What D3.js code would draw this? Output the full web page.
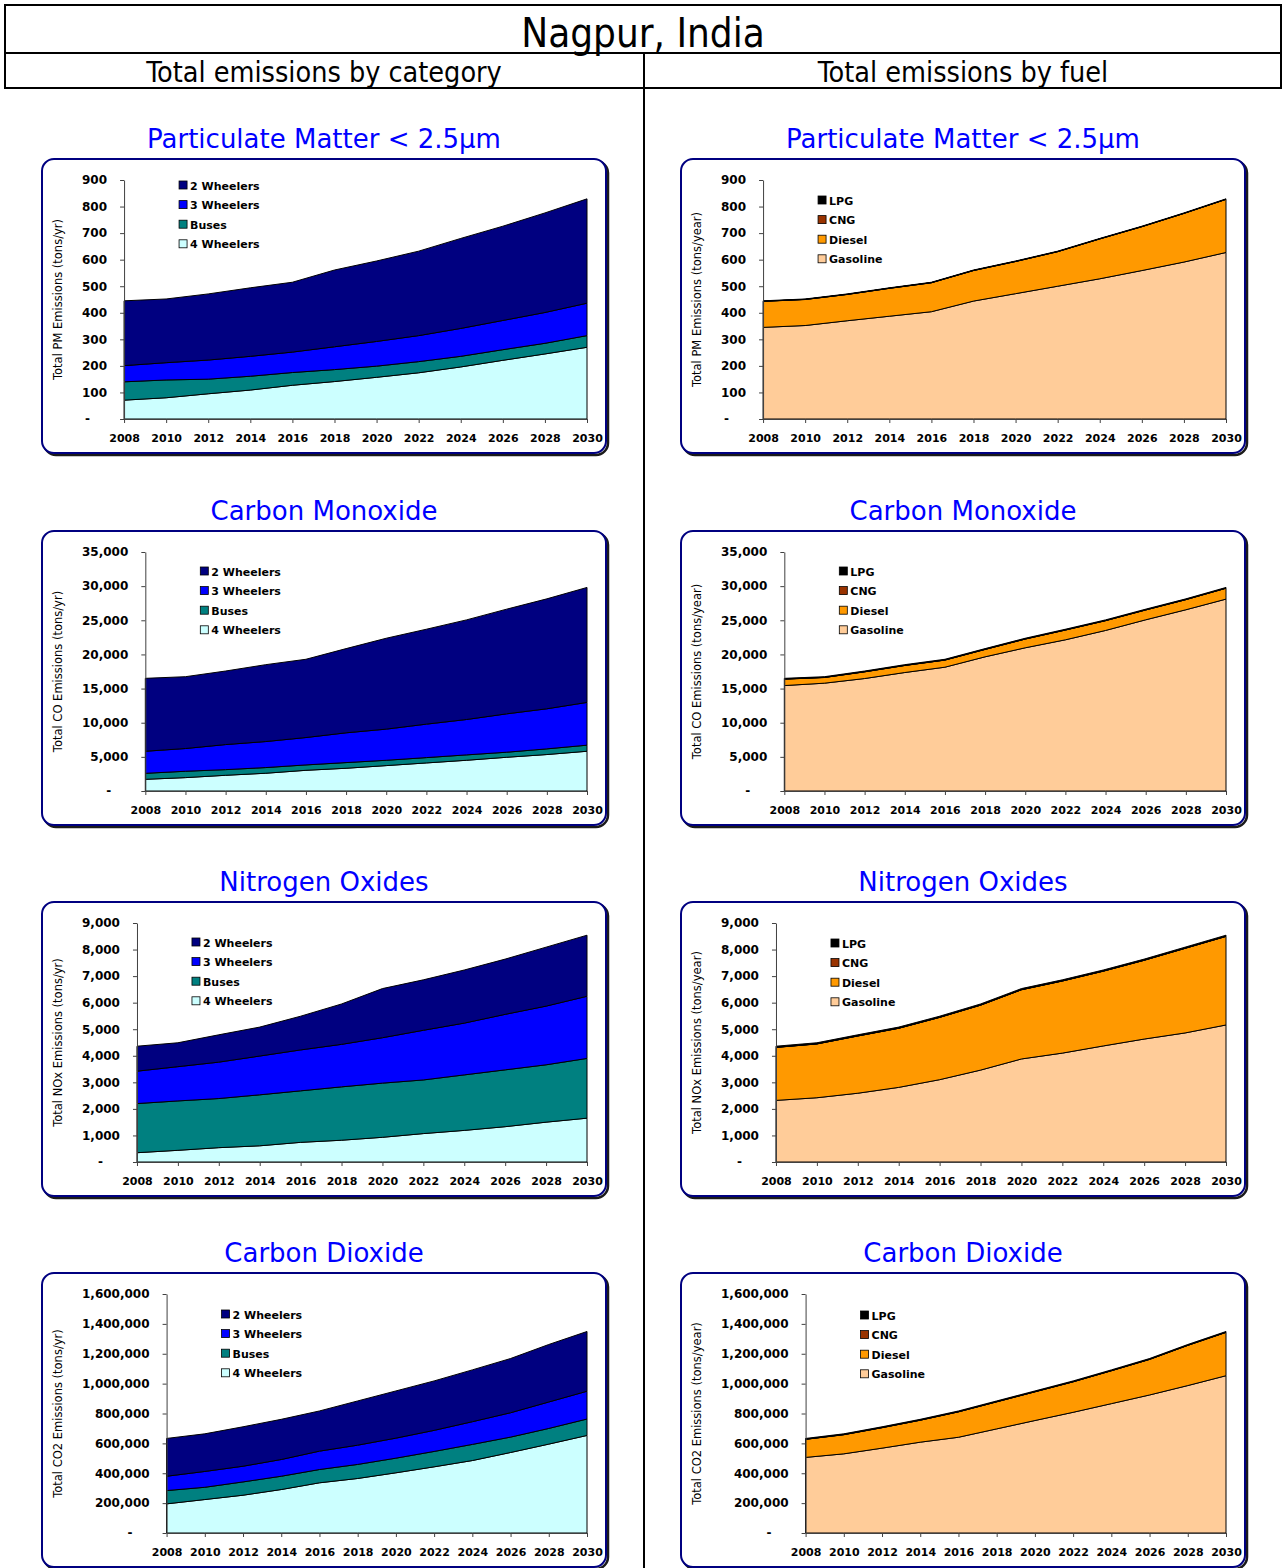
<!DOCTYPE html>
<html>
<head>
<meta charset="utf-8">
<script src="https://cdn.jsdelivr.net/npm/d3@7"></script>
<style>
body { margin: 0; background: #fff; }
text { font-family: "DejaVu Sans", Verdana, sans-serif; }
.cond { font-family: "DejaVu Sans Condensed", "DejaVu Sans", sans-serif; }
</style>
</head>
<body>
<div id="chart"></div>
<script>
var years = [2008, 2010, 2012, 2014, 2016, 2018, 2020, 2022, 2024, 2026, 2028, 2030];

// stack order is bottom to top, legend lists them top to bottom
var categoryKeys = ["4 Wheelers", "Buses", "3 Wheelers", "2 Wheelers"];
var fuelKeys = ["Gasoline", "Diesel", "CNG", "LPG"];
var categoryColors = ["#CCFFFF", "#008080", "#0000FF", "#000080"];
var fuelColors = ["#FFCC99", "#FF9900", "#993300", "#000000"];

// PM 2.5 (tons/yr)
var pm4Wheelers = [71, 80, 95, 109, 127, 141, 157, 174, 196, 221, 245, 270];
var pmBuses = [69, 67, 55, 52, 48, 45, 42, 42, 40, 40, 40, 44];
var pm3Wheelers = [61, 65, 72, 75, 77, 86, 93, 98, 105, 110, 116, 122];
var pm2Wheelers = [244, 240, 249, 258, 263, 289, 303, 318, 339, 355, 375, 393];
var pmGasoline = [345, 352, 370, 387, 404, 444, 472, 500, 528, 559, 591, 627];
var pmDiesel = [98, 98, 99, 105, 109, 115, 121, 130, 150, 165, 183, 200];
var pmCNG = [0.5, 0.5, 0.5, 0.5, 0.5, 0.5, 0.5, 0.5, 0.5, 0.5, 0.5, 0.5];
var pmLPG = [1.5, 1.5, 1.5, 1.5, 1.5, 1.5, 1.5, 1.5, 1.5, 1.5, 1.5, 1.5];

// CO (tons/yr)
var co4Wheelers = [1710, 1960, 2300, 2600, 3030, 3330, 3720, 4110, 4500, 4940, 5340, 5820];
var coBuses = [880, 930, 830, 830, 790, 830, 780, 780, 790, 740, 830, 890];
var co3Wheelers = [3230, 3330, 3670, 3810, 4010, 4360, 4560, 4900, 5180, 5620, 5870, 6260];
var co2Wheelers = [10680, 10520, 10770, 11260, 11460, 12330, 13310, 13900, 14590, 15330, 16100, 16840];
var coGasoline = [15440, 15790, 16470, 17350, 18130, 19650, 20970, 22140, 23510, 25070, 26540, 28100];
var coDiesel = [940, 830, 980, 1030, 1040, 1080, 1280, 1430, 1430, 1440, 1480, 1590];
var coCNG = [20, 20, 20, 20, 20, 20, 20, 20, 20, 20, 20, 20];
var coLPG = [100, 100, 100, 100, 100, 100, 100, 100, 100, 100, 100, 100];

// NOx (tons/yr)
var nox4Wheelers = [350, 440, 540, 610, 740, 820, 930, 1070, 1190, 1330, 1500, 1650];
var noxBuses = [1850, 1860, 1850, 1920, 1940, 2010, 2040, 2020, 2090, 2140, 2160, 2250];
var nox3Wheelers = [1220, 1290, 1370, 1460, 1540, 1600, 1710, 1870, 1950, 2090, 2210, 2340];
var nox2Wheelers = [940, 900, 1030, 1090, 1270, 1520, 1850, 1900, 2000, 2080, 2220, 2300];
var noxGasoline = [2320, 2420, 2590, 2810, 3100, 3460, 3880, 4100, 4370, 4630, 4860, 5160];
var noxDiesel = [1995, 2025, 2155, 2225, 2345, 2445, 2605, 2715, 2815, 2965, 3185, 3335];
var noxCNG = [5, 5, 5, 5, 5, 5, 5, 5, 5, 5, 5, 5];
var noxLPG = [40, 40, 40, 40, 40, 40, 40, 40, 40, 40, 40, 40];

// CO2 (tons/yr)
var co2_4Wheelers = [195000, 224000, 253000, 291000, 336000, 365000, 403000, 443000, 485000, 539000, 595000, 653000];
var co2Buses = [89000, 82000, 89000, 89000, 89000, 94000, 98000, 103000, 108000, 103000, 105000, 110000];
var co2_3Wheelers = [96000, 106000, 105000, 112000, 123000, 129000, 134000, 141000, 152000, 163000, 177000, 186000];
var co2_2Wheelers = [253000, 252000, 264000, 269000, 269000, 296000, 316000, 331000, 347000, 363000, 385000, 400000];
var co2Gasoline = [506000, 530000, 568000, 608000, 641000, 697000, 753000, 808000, 866000, 924000, 987000, 1053000];
var co2Diesel = [121000, 128000, 137000, 147000, 170000, 181000, 192000, 204000, 220000, 238000, 269000, 290000];
var co2CNG = [1000, 1000, 1000, 1000, 1000, 1000, 1000, 1000, 1000, 1000, 1000, 1000];
var co2LPG = [5000, 5000, 5000, 5000, 5000, 5000, 5000, 5000, 5000, 5000, 5000, 5000];

var panels = [
    { row: 0, side: 0, title: "Particulate Matter < 2.5µm", yLabel: "Total PM Emissions (tons/yr)", yMax: 900, yStep: 100,
      keys: categoryKeys, colors: categoryColors, values: [pm4Wheelers, pmBuses, pm3Wheelers, pm2Wheelers], legendTop: 26 },
    { row: 0, side: 1, title: "Particulate Matter < 2.5µm", yLabel: "Total PM Emissions (tons/year)", yMax: 900, yStep: 100,
      keys: fuelKeys, colors: fuelColors, values: [pmGasoline, pmDiesel, pmCNG, pmLPG], legendTop: 41 },
    { row: 1, side: 0, title: "Carbon Monoxide", yLabel: "Total CO Emissions (tons/yr)", yMax: 35000, yStep: 5000,
      keys: categoryKeys, colors: categoryColors, values: [co4Wheelers, coBuses, co3Wheelers, co2Wheelers], legendTop: 40 },
    { row: 1, side: 1, title: "Carbon Monoxide", yLabel: "Total CO Emissions (tons/year)", yMax: 35000, yStep: 5000,
      keys: fuelKeys, colors: fuelColors, values: [coGasoline, coDiesel, coCNG, coLPG], legendTop: 40 },
    { row: 2, side: 0, title: "Nitrogen Oxides", yLabel: "Total NOx Emissions (tons/yr)", yMax: 9000, yStep: 1000,
      keys: categoryKeys, colors: categoryColors, values: [nox4Wheelers, noxBuses, nox3Wheelers, nox2Wheelers], legendTop: 40 },
    { row: 2, side: 1, title: "Nitrogen Oxides", yLabel: "Total NOx Emissions (tons/year)", yMax: 9000, yStep: 1000,
      keys: fuelKeys, colors: fuelColors, values: [noxGasoline, noxDiesel, noxCNG, noxLPG], legendTop: 41 },
    { row: 3, side: 0, title: "Carbon Dioxide", yLabel: "Total CO2 Emissions (tons/yr)", yMax: 1600000, yStep: 200000,
      keys: categoryKeys, colors: categoryColors, values: [co2_4Wheelers, co2Buses, co2_3Wheelers, co2_2Wheelers], legendTop: 41 },
    { row: 3, side: 1, title: "Carbon Dioxide", yLabel: "Total CO2 Emissions (tons/year)", yMax: 1600000, yStep: 200000,
      keys: fuelKeys, colors: fuelColors, values: [co2Gasoline, co2Diesel, co2CNG, co2LPG], legendTop: 42 }
];

var rowTop = [159, 531, 902, 1273];
var sideLeft = [42, 681];
var boxW = 564, boxH = 294;
var condFont = "DejaVu Sans Condensed, DejaVu Sans, sans-serif";

var svg = d3.select("#chart").append("svg")
    .attr("width", 1282)
    .attr("height", 1568);

drawHeader();
panels.forEach(drawPanel);

function drawHeader() {
    svg.append("rect")
        .attr("x", 5).attr("y", 5).attr("width", 1276).attr("height", 83)
        .attr("fill", "none").attr("stroke", "#000").attr("stroke-width", 2);
    svg.append("line")
        .attr("x1", 5).attr("x2", 1281).attr("y1", 53).attr("y2", 53)
        .attr("stroke", "#000").attr("stroke-width", 2);
    svg.append("line")
        .attr("x1", 644).attr("x2", 644).attr("y1", 53).attr("y2", 1568)
        .attr("stroke", "#000").attr("stroke-width", 2);

    svg.append("text")
        .attr("class", "cond")
        .attr("x", 643).attr("y", 47)
        .attr("text-anchor", "middle")
        .attr("font-size", 40)
        .text("Nagpur, India");
    svg.append("text")
        .attr("class", "cond")
        .attr("x", 324).attr("y", 82)
        .attr("text-anchor", "middle")
        .attr("font-size", 28.5)
        .text("Total emissions by category");
    svg.append("text")
        .attr("class", "cond")
        .attr("x", 963).attr("y", 82)
        .attr("text-anchor", "middle")
        .attr("font-size", 28.5)
        .text("Total emissions by fuel");
}

function tickText(d) {
    return d === 0 ? "-" : d3.format(",")(d);
}

function drawPanel(p) {
    var left = sideLeft[p.side], top = rowTop[p.row];

    svg.append("text")
        .attr("x", left + boxW / 2).attr("y", top - 11)
        .attr("text-anchor", "middle")
        .attr("font-size", 26)
        .attr("fill", "#0000FF")
        .text(p.title);

    var g = svg.append("g").attr("transform", "translate(" + left + "," + top + ")");

    // box with a dark drop shadow
    g.append("rect")
        .attr("x", 2).attr("y", 2).attr("width", boxW).attr("height", boxH).attr("rx", 12)
        .attr("fill", "none").attr("stroke", "#1a1a1a").attr("stroke-width", 2.5);
    g.append("rect")
        .attr("width", boxW).attr("height", boxH).attr("rx", 12)
        .attr("fill", "#fff").attr("stroke", "#000080").attr("stroke-width", 2);

    // left edge of the plot follows the widest tick label
    var probe = g.append("text")
        .attr("font-family", condFont)
        .attr("font-size", 12).attr("font-weight", "bold")
        .text(tickText(p.yMax));
    var labelW = probe.node().getComputedTextLength();
    probe.remove();

    var plotLeft = 40 + labelW + 17,
        plotRight = 545,
        plotTop = 21,
        plotBottom = 260;

    var x = d3.scaleLinear()
        .domain([years[0], years[years.length - 1]])
        .range([plotLeft, plotRight]);

    var y = d3.scaleLinear()
        .domain([0, p.yMax])
        .range([plotBottom, plotTop]);

    var rows = years.map(function (yr, i) {
        var r = { year: yr };
        p.keys.forEach(function (k, j) { r[k] = p.values[j][i]; });
        return r;
    });

    var series = d3.stack().keys(p.keys)(rows);

    var area = d3.area()
        .x(function (d) { return x(d.data.year); })
        .y0(function (d) { return y(d[0]); })
        .y1(function (d) { return y(d[1]); });

    g.selectAll(".layer")
        .data(series)
        .enter().append("path")
        .attr("class", "layer")
        .attr("d", area)
        .attr("fill", function (d, i) { return p.colors[i]; })
        .attr("stroke", "#000")
        .attr("stroke-width", 1)
        .attr("stroke-linejoin", "round");

    // y axis
    var yTicks = d3.range(0, p.yMax + p.yStep / 2, p.yStep);
    var yAxis = g.append("g")
        .attr("transform", "translate(" + plotLeft + ",0)")
        .call(d3.axisLeft(y).tickValues(yTicks).tickFormat(tickText)
            .tickSize(4).tickSizeOuter(0).tickPadding(13));
    yAxis.selectAll("text")
        .attr("font-size", 12).attr("font-weight", "bold")
        .attr("font-family", condFont)
        .attr("fill", "#000")
        .attr("x", function (d) { return d === 0 ? -34 : -17; });

    // x axis
    var xAxis = g.append("g")
        .attr("transform", "translate(0," + plotBottom + ")")
        .call(d3.axisBottom(x).tickValues(years).tickFormat(d3.format("d"))
            .tickSize(4).tickSizeOuter(0).tickPadding(11));
    xAxis.selectAll("text")
        .attr("font-size", 11).attr("font-weight", "bold")
        .attr("font-family", condFont)
        .attr("fill", "#000");

    g.selectAll(".domain, .tick line").attr("stroke", "#404040");

    // y axis title
    g.append("text")
        .attr("transform", "translate(16," + ((plotTop + plotBottom) / 2) + ") rotate(-90)")
        .attr("text-anchor", "middle")
        .attr("dy", "0.35em")
        .attr("font-family", condFont)
        .attr("font-size", 11.5)
        .text(p.yLabel);

    // legend, top entry is the top of the stack
    var lx = plotLeft + 55, ly = p.legendTop;
    var order = p.keys.map(function (k, i) { return i; }).reverse();
    var items = g.selectAll(".legend")
        .data(order)
        .enter().append("g")
        .attr("class", "legend")
        .attr("transform", function (d, i) { return "translate(" + lx + "," + (ly + i * 19.6) + ")"; });
    items.append("rect")
        .attr("x", 0).attr("y", -4).attr("width", 8).attr("height", 8)
        .attr("fill", function (d) { return p.colors[d]; })
        .attr("stroke", "#000").attr("stroke-width", 0.8);
    items.append("text")
        .attr("x", 11).attr("y", 4.5)
        .attr("font-family", condFont)
        .attr("font-size", 11).attr("font-weight", "bold")
        .text(function (d) { return p.keys[d]; });
}
</script>
</body>
</html>
